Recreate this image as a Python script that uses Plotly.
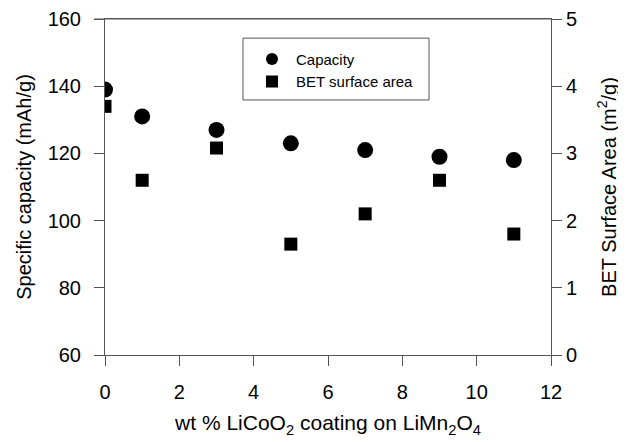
import plotly.graph_objects as go

wt_pct = [0, 1, 3, 5, 7, 9, 11]
capacity = [139, 131, 127, 123, 121, 119, 118]
bet_area = [3.70, 2.60, 3.08, 1.65, 2.10, 2.60, 1.80]

x_ticks = [0, 2, 4, 6, 8, 10, 12]
cap_ticks = [60, 80, 100, 120, 140, 160]
bet_ticks = [0, 1, 2, 3, 4, 5]

FONT = "Liberation Sans, Arial, sans-serif"
LINE = "#555555"
TS = 20

fig = go.Figure()
fig.add_trace(go.Scatter(x=wt_pct, y=capacity, mode="markers", name="Capacity",
                         marker=dict(symbol="circle", size=16, color="black")))
fig.add_trace(go.Scatter(x=wt_pct, y=bet_area, mode="markers", name="BET surface area",
                         yaxis="y2",
                         marker=dict(symbol="square", size=13, color="black")))

fig.update_layout(
    width=618, height=434,
    margin=dict(l=97, r=75, t=11, b=87),
    paper_bgcolor="white", plot_bgcolor="white",
    font=dict(family=FONT, color="black", size=TS),
    showlegend=True,
    legend=dict(x=0.3206, y=0.929, xanchor="left", yanchor="top",
                bgcolor="rgba(0,0,0,0)", borderwidth=0,
                font=dict(size=15), itemsizing="constant", itemwidth=38,
                tracegroupgap=0),
    xaxis=dict(range=[0, 12], tickvals=x_ticks, ticks="outside", ticklen=10,
               tickcolor=LINE, showline=True, linecolor=LINE, linewidth=1,
               mirror=True, showgrid=False, zeroline=False, automargin=False,
               tickfont=dict(size=TS), ticklabelstandoff=9,
               title=dict(text="wt % LiCoO<sub>2</sub> coating on LiMn<sub>2</sub>O<sub>4</sub>",
                          font=dict(size=21), standoff=13)),
    yaxis=dict(range=[60, 160], tickvals=cap_ticks, ticks="outside", ticklen=10,
               tickcolor=LINE, showline=True, linecolor=LINE, linewidth=1,
               showgrid=False, zeroline=False, automargin=False, tickfont=dict(size=TS),
               ticklabelstandoff=9,
               title=dict(text="Specific capacity (mAh/g)", font=dict(size=TS), standoff=10)),
    yaxis2=dict(range=[0, 5], tickvals=bet_ticks, ticks="outside", ticklen=10,
                tickcolor=LINE, showline=True, linecolor=LINE, linewidth=1,
                overlaying="y", side="right", showgrid=False, zeroline=False,
                automargin=False, tickfont=dict(size=TS),
                title=dict(text="BET Surface Area (m<sup>2</sup>/g)", font=dict(size=TS), standoff=25)),
)
fig.add_shape(type="line", xref="paper", yref="paper", x0=-0.025, x1=1, y0=1, y1=1,
              line=dict(color=LINE, width=1))
fig.add_shape(type="rect", xref="paper", yref="paper", x0=0.3094, x1=0.7265, y0=0.759, y1=0.943,
              line=dict(color=LINE, width=1), fillcolor="white", layer="above")

fig.write_html("out.html")
